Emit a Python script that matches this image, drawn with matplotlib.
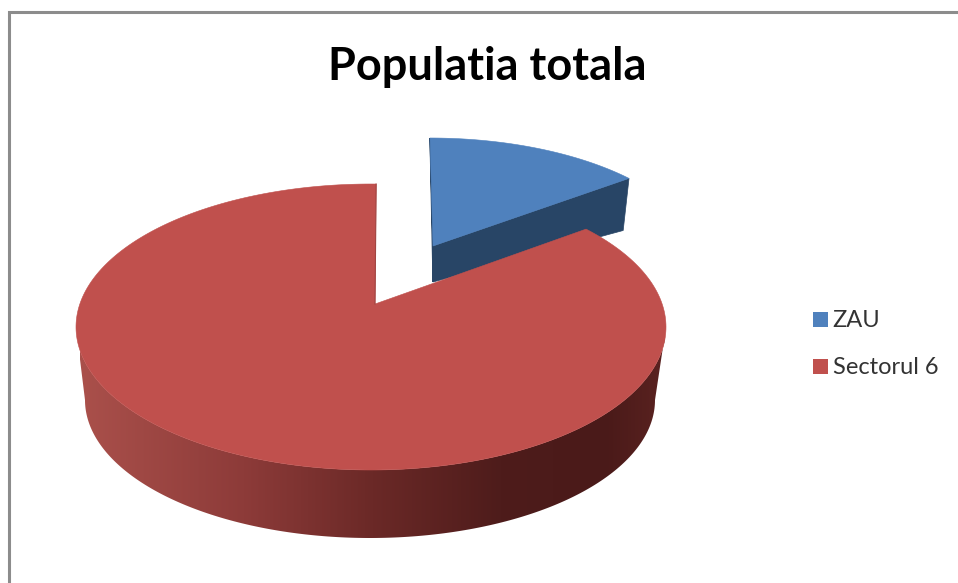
"""3D style pie, Populatia totala"""
import matplotlib
matplotlib.use('Agg')
import matplotlib.pyplot as plt
from matplotlib.colors import LinearSegmentedColormap
from matplotlib.patches import Patch, Polygon
import numpy as np

labels = ['ZAU', 'Sectorul 6']
values = [13, 87]
colors = ['#4f81bd', '#c0504d']
title = 'Populatia totala'

W, H = 958, 583


def rim(cx, cy, rx, ry, t):
    # t in degrees, clockwise from 12 o'clock
    t = np.radians(t)
    return np.column_stack([cx + rx * np.sin(t), cy - ry * np.cos(t)])


split = 360 * values[0] / sum(values)
arc_blue = np.linspace(0, split, 60)
arc_red = np.linspace(split, 361, 300)
arc_side = np.linspace(90, 270, 200)

fig = plt.figure(figsize=(W / 100, H / 100), dpi=100)
ax = fig.add_axes([0, 0, 1, 1])
ax.set_xlim(0, W)
ax.set_ylim(H, 0)
ax.axis('off')

# chart frame, only left and top fall inside the picture
ax.plot([9, 9, W], [H, 12, 12], color='#8c8c8c', lw=2.2, solid_joinstyle='miter')

# blue slice, pulled out
blue_top = (430, 266, 273, 128)
blue_low = (430, 314, 265, 122)
blue_apex = np.array([[433, 246]])
blue_apex_low = np.array([[433, 282]])
cut = np.vstack([blue_apex, rim(*blue_top, [split]), rim(*blue_low, [split]), blue_apex_low])
ax.add_patch(Polygon(cut, fc='#284566', ec='#284566', lw=0.5))
sliver = np.vstack([rim(*blue_top, [0]), blue_apex_low, blue_apex])
ax.add_patch(Polygon(sliver, fc='#284566', ec='#284566', lw=0.8))
ax.add_patch(Polygon(np.vstack([blue_apex, rim(*blue_top, arc_blue)]), fc=colors[0], ec=colors[0], lw=0.4))

# red side wall with a horizontal shading
red_top = (371, 327, 295, 143)
red_low = (370, 400, 285, 138)
side = np.vstack([rim(*red_top, arc_side), rim(*red_low, arc_side)[::-1]])
shade = LinearSegmentedColormap.from_list('side', [
    (0.0, '#aa504b'), (0.28, '#8d3b39'), (0.5, '#6b2927'),
    (0.72, '#4e1c1b'), (0.9, '#4a1a19'), (1.0, '#5a2220')])
clip = Polygon(side, fc='none', ec='none')
ax.add_patch(clip)
im = ax.imshow(np.linspace(0, 1, 256)[None, :], cmap=shade, extent=(80, 665, 540, 320),
               aspect='auto', zorder=2)
im.set_clip_path(clip)
ax.set_xlim(0, W)
ax.set_ylim(H, 0)

# red top face
red_apex = np.array([[375, 304]])
face = np.vstack([red_apex, rim(*red_top, arc_red)])
ax.add_patch(Polygon(face, fc=colors[1], ec=colors[1], lw=0.4, zorder=3))
edge = np.vstack([rim(*red_top, [361]), red_apex])
ax.plot(edge[:, 0], edge[:, 1], color='#a04542', lw=0.8, zorder=3)

ax.text(487.5, 66.5, title, ha='center', va='center', fontsize=32.5, fontweight='bold',
        family='Lato', color='black')

handles = [Patch(fc=c, ec='none') for c in colors]
ax.legend(handles, labels, loc='upper left', bbox_to_anchor=(804 / W, 1 - 301 / H),
          frameon=False, prop={'family': 'Lato', 'size': 17}, labelcolor='#333333',
          handlelength=0.6, handleheight=0.6, handletextpad=0.22, labelspacing=1.1,
          borderpad=0.4, borderaxespad=0)

fig.savefig('out.png', dpi=100)
